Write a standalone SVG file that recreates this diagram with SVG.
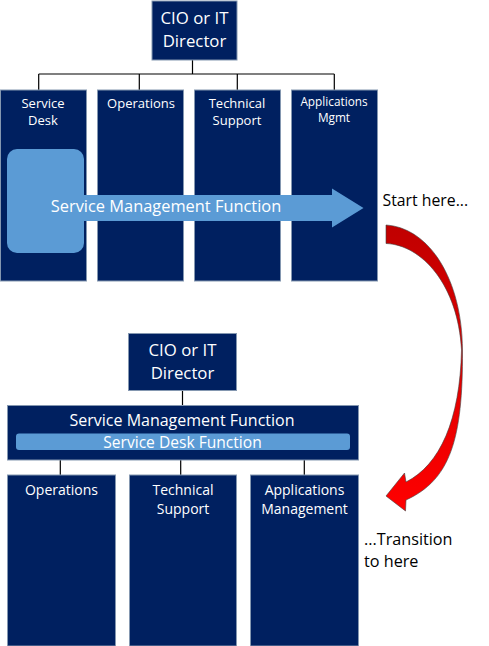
<svg xmlns="http://www.w3.org/2000/svg" width="489" height="646" viewBox="0 0 489 646">
<defs>
<style>
.box{fill:#002060;stroke:#8497b0;stroke-width:1}
.lt{fill:#5b9bd5}
.w{fill:#ffffff;font-family:"Open Sans","Noto Sans",sans-serif;text-anchor:middle}
.k{fill:#000000;font-family:"Open Sans","Noto Sans",sans-serif}
.ln{stroke:#000;stroke-width:1.2;fill:none}
</style>
<linearGradient id="red" x1="0" y1="0" x2="0" y2="1">
<stop offset="0" stop-color="#c00000"/>
<stop offset="1" stop-color="#ff0000"/>
</linearGradient>
</defs>
<rect width="489" height="646" fill="#fff"/>
<g id="connectors">
<path class="ln" d="M192.5,60V74M38.7,74H334.3M38.7,74V90M139.3,74V90M237.3,74V90M334.3,74V90"/>
<path class="ln" d="M182.5,390V405.5M60.3,460V475M180.7,460V475M304.3,460V475"/>
</g>
<g id="cio-top">
<rect class="box" x="152" y="1" width="85" height="59"/>
<text class="w" x="194.5" y="24" font-size="16.8">CIO or IT</text>
<text class="w" x="194.5" y="47" font-size="16.8">Director</text>
</g>
<g id="service-desk">
<rect class="box" x="0.5" y="90" width="86" height="191"/>
<text class="w" x="43" y="108" font-size="13">Service</text>
<text class="w" x="43" y="125" font-size="13">Desk</text>
</g>
<g id="operations-top">
<rect class="box" x="97.5" y="90" width="86" height="191"/>
<text class="w" x="141" y="108" font-size="13">Operations</text>
</g>
<g id="techsupport-top">
<rect class="box" x="194.5" y="90" width="86" height="191"/>
<text class="w" x="237" y="108" font-size="13">Technical</text>
<text class="w" x="237" y="125" font-size="13">Support</text>
</g>
<g id="appsmgmt-top">
<rect class="box" x="291.5" y="90" width="86" height="191"/>
<text class="w" x="334" y="106" font-size="11.8">Applications</text>
<text class="w" x="334" y="122" font-size="11.8">Mgmt</text>
</g>
<g id="smf-arrow">
<rect class="lt" x="7" y="149" width="77" height="104" rx="10"/>
<path class="lt" d="M60,195H332V188.5L363.5,208L332,227.5V221H60Z"/>
<text class="w" x="166" y="212" font-size="16.4" fill="#eef4fb">Service Management Function</text>
</g>
<g id="start-label">
<text class="k" x="382.5" y="206" font-size="15.8">Start here...</text>
</g>
<g id="transition-arrow">
<path fill="url(#red)" stroke="#404040" stroke-width="0.6" d="M386,225 C430,228 462,280 462.5,350 C463,440 450,480 406,500 L405.5,511 L386,496 L404.5,473 L406,482 C440,465 460,420 461.5,350 C458,285 422,245 386,243.5 Z"/>
</g>
<g id="cio-bottom">
<rect class="box" x="128.5" y="333.5" width="108" height="57"/>
<text class="w" x="182.5" y="356" font-size="16.8">CIO or IT</text>
<text class="w" x="182.5" y="379" font-size="16.8">Director</text>
</g>
<g id="smf-box">
<rect class="box" x="7.5" y="405.5" width="351" height="54.5"/>
<text class="w" x="182" y="425.5" font-size="16">Service Management Function</text>
<rect class="lt" x="16" y="433.5" width="334" height="16.5" rx="3"/>
<text class="w" x="182.5" y="447.8" font-size="15.6" fill="#eef4fb">Service Desk Function</text>
</g>
<g id="operations-bottom">
<rect class="box" x="7.5" y="475" width="108" height="171"/>
<text class="w" x="61.5" y="494.5" font-size="14">Operations</text>
</g>
<g id="techsupport-bottom">
<rect class="box" x="129.5" y="475" width="107" height="171"/>
<text class="w" x="183" y="494.5" font-size="14">Technical</text>
<text class="w" x="183" y="513.5" font-size="14">Support</text>
</g>
<g id="appsmgmt-bottom">
<rect class="box" x="250.5" y="475" width="108" height="171"/>
<text class="w" x="304.5" y="494.5" font-size="14">Applications</text>
<text class="w" x="304.5" y="513.5" font-size="14">Management</text>
</g>
<g id="transition-label">
<text class="k" x="364" y="545" font-size="16.2">...Transition</text>
<text class="k" x="364" y="567" font-size="16.2">to here</text>
</g>
</svg>
